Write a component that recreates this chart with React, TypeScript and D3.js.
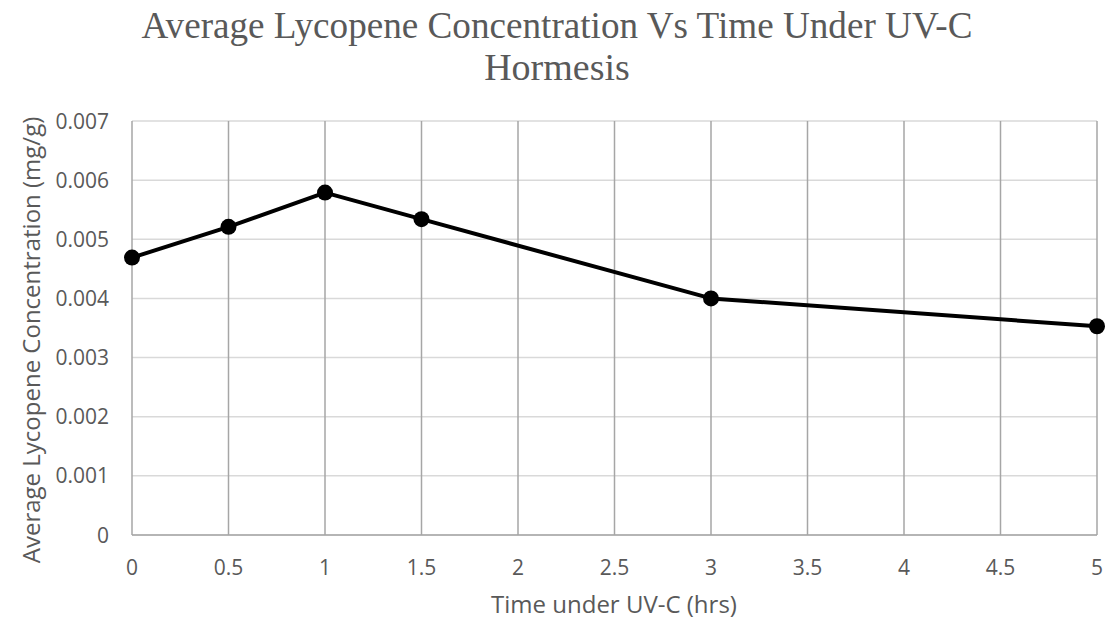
import React from "react";
import * as d3 from "d3";

const times = [0, 0.5, 1, 1.5, 3, 5];
const lycopene = [0.00469, 0.00521, 0.00579, 0.00534, 0.004, 0.00353];
const xTicks = [0, 0.5, 1, 1.5, 2, 2.5, 3, 3.5, 4, 4.5, 5];
const yTicks = [0, 0.001, 0.002, 0.003, 0.004, 0.005, 0.006, 0.007];
const titleLines = ["Average Lycopene Concentration Vs Time Under UV-C", "Hormesis"];
const xTitle = "Time under UV-C (hrs)";
const yTitle = "Average Lycopene Concentration (mg/g)";

const W = 1112, H = 621;
const L = 132, R = 1097, T = 121, B = 535;

export default function App() {
  const x = d3.scaleLinear().domain([0, 5]).range([L, R]);
  const y = d3.scaleLinear().domain([0, 0.007]).range([B, T]);
  const pts = times.map((t, i) => [t, lycopene[i]] as [number, number]);
  const line = d3.line<[number, number]>().x(d => x(d[0])).y(d => y(d[1]));
  const font = "'Open Sans', 'Noto Sans', sans-serif";
  return (
    <svg width={W} height={H} style={{ position: "absolute", left: 0, top: 0, background: "#fff" }}>
      <rect width={W} height={H} fill="#fff" />
      {titleLines.map((s, i) => (
        <text key={i} x={557} y={38 + i * 42} textAnchor="middle" fontFamily="'Liberation Serif', 'Times New Roman', serif" fontSize={38} fill="#595959" textLength={i === 0 ? 831 : undefined} lengthAdjust="spacingAndGlyphs">{s}</text>
      ))}
      {yTicks.map(v => (
        <line key={"h" + v} x1={L} x2={R} y1={y(v)} y2={y(v)} stroke="#d9d9d9" strokeWidth={1.5} />
      ))}
      {xTicks.map(v => (
        <line key={"v" + v} x1={x(v)} x2={x(v)} y1={T} y2={B} stroke="#a6a6a6" strokeWidth={1.5} />
      ))}
      <line x1={L} x2={R} y1={B} y2={B} stroke="#a6a6a6" strokeWidth={1.5} />
      {yTicks.map(v => (
        <text key={"yt" + v} x={109} y={y(v) + 7.5} textAnchor="end" fontFamily={font} fontSize={21} fill="#595959">{d3.format("")(v)}</text>
      ))}
      {xTicks.map(v => (
        <text key={"xt" + v} x={x(v)} y={575} textAnchor="middle" fontFamily={font} fontSize={21} fill="#595959">{v}</text>
      ))}
      <text x={614} y={613} textAnchor="middle" fontFamily={font} fontSize={24} fill="#595959">{xTitle}</text>
      <text transform={`translate(40,340) rotate(-90)`} textAnchor="middle" fontFamily={font} fontSize={24} fill="#595959">{yTitle}</text>
      <path d={line(pts) || ""} fill="none" stroke="#000" strokeWidth={4} strokeLinejoin="round" />
      {pts.map((p, i) => (
        <circle key={i} cx={x(p[0])} cy={y(p[1])} r={8} fill="#000" />
      ))}
    </svg>
  );
}
